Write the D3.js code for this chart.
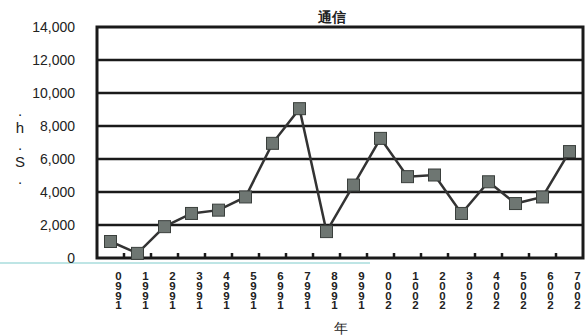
<!DOCTYPE html>
<html>
<head>
<meta charset="utf-8">
<script src="https://cdn.jsdelivr.net/npm/d3@7"></script>
<style>
  body { margin: 0; background: #fff; }
  text { font-family: "Liberation Sans", Arial, sans-serif; }
  .vert { writing-mode: vertical-rl; text-orientation: upright; }
</style>
</head>
<body>
<svg id="chart" width="588" height="336"></svg>
<script>
// data
const years = ["1990","1991","1992","1993","1994","1995","1996","1997","1998","1999",
               "2000","2001","2002","2003","2004","2005","2006","2007"];
const values = [1000, 280, 1900, 2700, 2900, 3700, 6950, 9050, 1600, 4420,
                7250, 4930, 5030, 2700, 4620, 3300, 3700, 6450];
const yTicks = [0, 2000, 4000, 6000, 8000, 10000, 12000, 14000];
const title = "通信";
const xTitle = "年";
const yTitle = ".h.S.";

const svg = d3.select("#chart");
const pLeft = 97, pRight = 583, pTop = 27, pBottom = 258;

const x = d3.scaleBand().domain(years).range([pLeft, pRight]);
const y = d3.scaleLinear().domain([0, 14000]).range([pBottom, pTop]);
const fmt = d3.format(",");

// scan artifact line
svg.append("line")
  .attr("x1", 0).attr("x2", 370).attr("y1", 263).attr("y2", 263)
  .attr("stroke", "#a8dcdc").attr("stroke-width", 1.5);

// gridlines
svg.append("g")
  .selectAll("line")
  .data(yTicks.slice(1, -1))
  .join("line")
  .attr("x1", pLeft).attr("x2", pRight)
  .attr("y1", d => y(d)).attr("y2", d => y(d))
  .attr("stroke", "#1a1a1a").attr("stroke-width", 2.5);

// plot frame
svg.append("rect")
  .attr("x", pLeft).attr("y", pTop)
  .attr("width", pRight - pLeft).attr("height", pBottom - pTop)
  .attr("fill", "none").attr("stroke", "#1a1a1a").attr("stroke-width", 3);

// y axis labels
const yAxis = d3.axisLeft(y).tickValues(yTicks).tickFormat(fmt).tickSize(0).tickPadding(22);
svg.append("g")
  .attr("transform", `translate(${pLeft},0)`)
  .call(yAxis)
  .call(g => g.select(".domain").remove())
  .selectAll("text")
  .attr("font-size", 14)
  .attr("font-family", "Liberation Sans, Arial, sans-serif")
  .attr("fill", "#222");

// x ticks pointing up at category boundaries
const bounds = years.slice(1).map(d => x(d));
svg.append("g")
  .selectAll("line")
  .data(bounds)
  .join("line")
  .attr("x1", d => d).attr("x2", d => d)
  .attr("y1", pBottom).attr("y2", pBottom - 5)
  .attr("stroke", "#1a1a1a").attr("stroke-width", 2.5);

// x labels: digits stacked top to bottom, reversed
svg.append("g")
  .selectAll("text")
  .data(years)
  .join("text")
  .attr("class", "vert")
  .attr("x", d => x(d) + x.bandwidth() / 2 + 8)
  .attr("y", 270)
  .attr("font-size", 11.5)
  .attr("font-weight", "bold")
  .attr("letter-spacing", -2.2)
  .attr("fill", "#222")
  .text(d => d.split("").reverse().join(""));

// line
const line = d3.line()
  .x((d, i) => x(years[i]) + x.bandwidth() / 2)
  .y(d => y(d));
svg.append("path")
  .datum(values)
  .attr("d", line)
  .attr("fill", "none")
  .attr("stroke", "#333")
  .attr("stroke-width", 2.5);

// markers
svg.append("g")
  .selectAll("rect")
  .data(values)
  .join("rect")
  .attr("x", (d, i) => x(years[i]) + x.bandwidth() / 2 - 6)
  .attr("y", d => y(d) - 6)
  .attr("width", 12).attr("height", 12)
  .attr("fill", "#6e7672")
  .attr("stroke", "#3a3f3c").attr("stroke-width", 1);

// titles
svg.append("text")
  .attr("x", 332).attr("y", 22)
  .attr("text-anchor", "middle")
  .attr("font-size", 14).attr("font-weight", "bold")
  .attr("font-family", "Noto Sans CJK JP")
  .attr("fill", "#222")
  .text(title);

svg.append("text")
  .attr("x", 341).attr("y", 333)
  .attr("text-anchor", "middle")
  .attr("font-size", 14)
  .attr("font-family", "Noto Sans CJK JP")
  .attr("fill", "#222")
  .text(xTitle);

svg.append("text")
  .attr("class", "vert")
  .attr("x", 20).attr("y", 102)
  .attr("font-size", 15)
  .attr("letter-spacing", 0)
  .attr("fill", "#222")
  .text(yTitle);
</script>
</body>
</html>
